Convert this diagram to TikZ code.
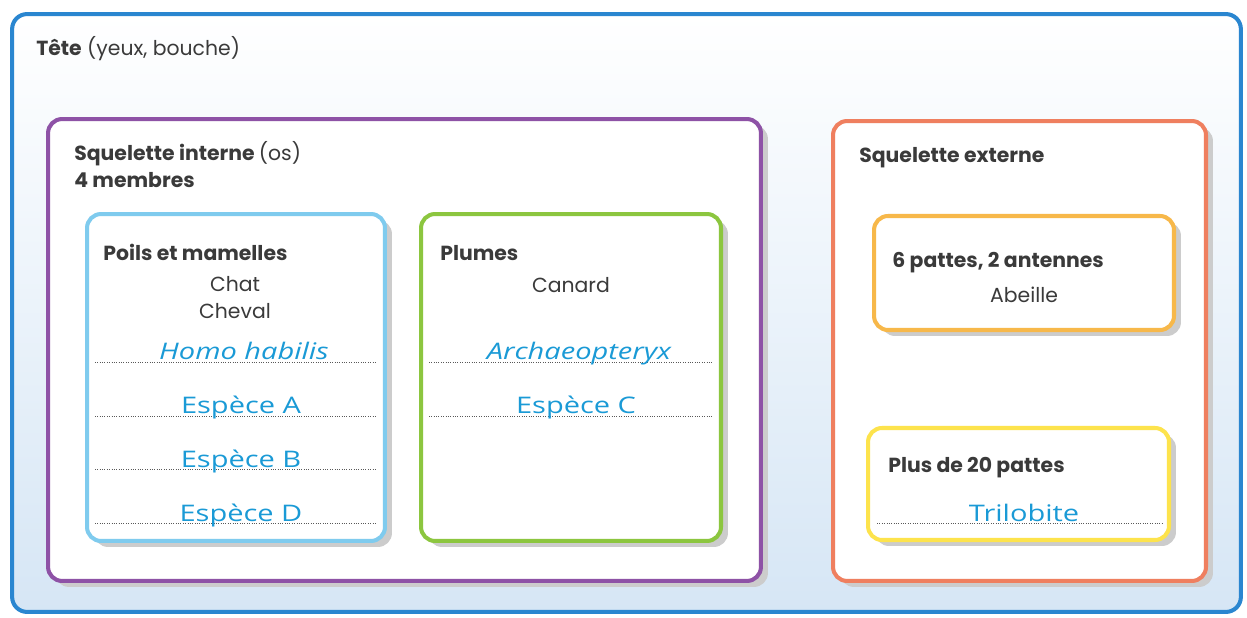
\documentclass[tikz,border=0pt]{standalone}
\usepackage{fontspec}
\setmainfont{Poppins}
\newfontfamily\handfont[FakeStretch=1.27]{Open Sans}
\usetikzlibrary{shadows}
\definecolor{cOuter}{RGB}{42,134,208}
\definecolor{cPurple}{RGB}{142,82,166}
\definecolor{cLblue}{RGB}{127,203,238}
\definecolor{cGreen}{RGB}{140,198,63}
\definecolor{cRed}{RGB}{239,127,95}
\definecolor{cOrange}{RGB}{247,184,74}
\definecolor{cYellow}{RGB}{253,227,76}
\definecolor{cText}{RGB}{58,58,58}
\definecolor{cHand}{RGB}{26,154,214}
\definecolor{cBgBot}{RGB}{214,230,245}
\tikzset{
  boxshape/.style={draw=#1, line width=2.3pt, rounded corners=0.28cm, fill=white,
    inner sep=0pt, drop shadow={shadow xshift=0.14cm, shadow yshift=-0.12cm, fill=black!20, opacity=1}},
  head/.style={anchor=base west, font=\fontsize{11.6}{14}\selectfont\bfseries, text=cText, inner sep=0pt},
  plain/.style={anchor=base, font=\fontsize{11.6}{14}\selectfont, text=cText, inner sep=0pt},
  hand/.style={anchor=base, font=\handfont\fontsize{13}{15}\selectfont, text=cHand, inner sep=0pt},
  dotline/.style={draw=black!65, line width=0.45pt, dash pattern=on 0.45pt off 0.9pt}
}
\begin{document}
\begin{tikzpicture}[x=0.02cm,y=-0.02cm]
\useasboundingbox (0,0) rectangle (1247,618);
% outer box
\node[draw=cOuter, line width=2.3pt, rounded corners=0.3cm, top color=white, bottom color=cBgBot,
  minimum width=24.58cm, minimum height=11.96cm, inner sep=0pt] (outer) at (626.5,313) {};
\node[anchor=base west, inner sep=0pt, text=cText, font=\fontsize{11.6}{14}\selectfont] (tete) at (36,56) {\textbf{Tête} (yeux, bouche)};

% internal skeleton
\node[boxshape=cPurple, minimum width=14.26cm, minimum height=9.24cm] (interne) at (404.5,350) {};
\node[head] (tinterne) at (74,161) {Squelette interne \mdseries(os)};
\node[head] (tmembres) at (74,188) {4 membres};

\node[boxshape=cLblue, minimum width=5.96cm, minimum height=6.54cm] (poils) at (236,377.5) {};
\node[head] (tpoils) at (103,260) {Poils et mamelles};
\node[plain] (chat) at (235,291) {Chat};
\node[plain] (cheval) at (235,318) {Cheval};
\draw[dotline] (95,362) -- (377,362);
\draw[dotline] (95,416) -- (377,416);
\draw[dotline] (95,469) -- (377,469);
\draw[dotline] (95,523) -- (377,523);
\node[hand] (homo) at (244,359) {\itshape Homo habilis};
\node[hand] (espA) at (241,413) {Espèce A};
\node[hand] (espB) at (241,467) {Espèce B};
\node[hand] (espD) at (241,521) {Espèce D};

\node[boxshape=cGreen, minimum width=6.0cm, minimum height=6.54cm] (plumes) at (571,377.5) {};
\node[head] (tplumes) at (440,260) {Plumes};
\node[plain] (canard) at (571,292) {Canard};
\draw[dotline] (429,362) -- (713,362);
\draw[dotline] (429,416) -- (713,416);
\node[hand] (archaeo) at (579,359) {\itshape Archaeopteryx};
\node[hand] (espC) at (576,413) {Espèce C};

% external skeleton
\node[boxshape=cRed, minimum width=7.46cm, minimum height=9.2cm] (externe) at (1019.5,351) {};
\node[head] (texterne) at (859,163) {Squelette externe};

\node[boxshape=cOrange, minimum width=6.0cm, minimum height=2.28cm] (six) at (1024,273) {};
\node[head] (tsix) at (892,267) {6 pattes, 2 antennes};
\node[plain] (abeille) at (1024,302) {Abeille};

\node[boxshape=cYellow, minimum width=6.02cm, minimum height=2.24cm] (vingt) at (1018.5,484) {};
\node[head] (tvingt) at (888,472) {Plus de 20 pattes};
\draw[dotline] (877,523) -- (1162,523);
\node[hand] (trilo) at (1024,521) {Trilobite};
\end{tikzpicture}
\end{document}
